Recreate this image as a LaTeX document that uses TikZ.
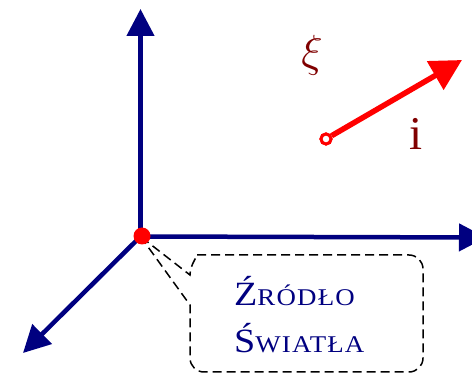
\RequirePackage{fix-cm}
\documentclass[tikz,border=0pt]{standalone}
\usepackage{fontspec}
\newfontfamily\tms{Liberation Serif}
\newfontfamily\tmsls[FakeStretch=1.12,LetterSpace=5]{Liberation Serif}
\usetikzlibrary{arrows.meta}
\definecolor{navy}{RGB}{0,0,128}
\definecolor{darkred}{RGB}{128,0,0}
\newcommand{\capbig}[1]{{\tmsls\fontsize{34}{38}\selectfont #1}}
\newcommand{\capsmall}[1]{{\tmsls\fontsize{24}{28}\selectfont #1}}
\begin{document}
\begin{tikzpicture}[x=1pt,y=-1pt,
  axis/.style={draw=navy,line width=4.5pt,-{Triangle[length=27pt,width=27pt]}},
  vec/.style={draw=red,line width=5.5pt,-{Triangle[length=31pt,width=32pt]}},
  dot/.style={circle,fill=red,inner sep=0pt,minimum size=17pt},
  ring/.style={circle,draw=red,line width=3pt,fill=white,inner sep=0pt,minimum size=10pt},
  bigsym/.style={text=darkred,font=\fontsize{45}{45}\selectfont,inner sep=0pt},
  callout/.style={draw=black,line width=1.5pt,dash pattern=on 9pt off 5pt},
  lbl/.style={text=navy,inner sep=0pt,anchor=base west}]
\clip (0,0) rectangle (472,374);
\coordinate (o) at (140.5,236.5);
\coordinate (ytip) at (140.5,9);
\coordinate (xtip) at (486,237.5);
\coordinate (ztip) at (23,353);
\coordinate (p1) at (190,305);
\coordinate (bl) at (190,372);
\coordinate (br) at (423,372);
\coordinate (tr) at (423,255);
\coordinate (tl) at (210,255);
% callout
\draw[callout] (o) -- (p1) [rounded corners=14pt] -- (bl) -- (br) -- (tr) -- (tl) [sharp corners] arc[start angle=-90,end angle=-180,radius=20] -- cycle;
\node[lbl] (t1) at (234,305.5) {\capbig{Ź}\capsmall{RÓDŁO}};
\node[lbl] (t2) at (234,353) {\capbig{Ś}\capsmall{WIATŁA}};
% axes
\draw[axis] (o) -- (ytip);
\draw[axis] (o) -- (xtip);
\draw[axis] (o) -- (ztip);
\node[dot] (src) at (142,236) {};
% red vector
\node[ring] (r0) at (326,139) {};
\coordinate (r1) at (462,60);
\draw[vec] (r0) -- (r1);
\node[ring] at (326,139) {};
\node[bigsym] (xi) at (312,55) {$\xi$};
\node[bigsym,font=\tms\fontsize{47}{47}\selectfont,anchor=base] (i) at (416,150) {i};
\end{tikzpicture}
\end{document}
